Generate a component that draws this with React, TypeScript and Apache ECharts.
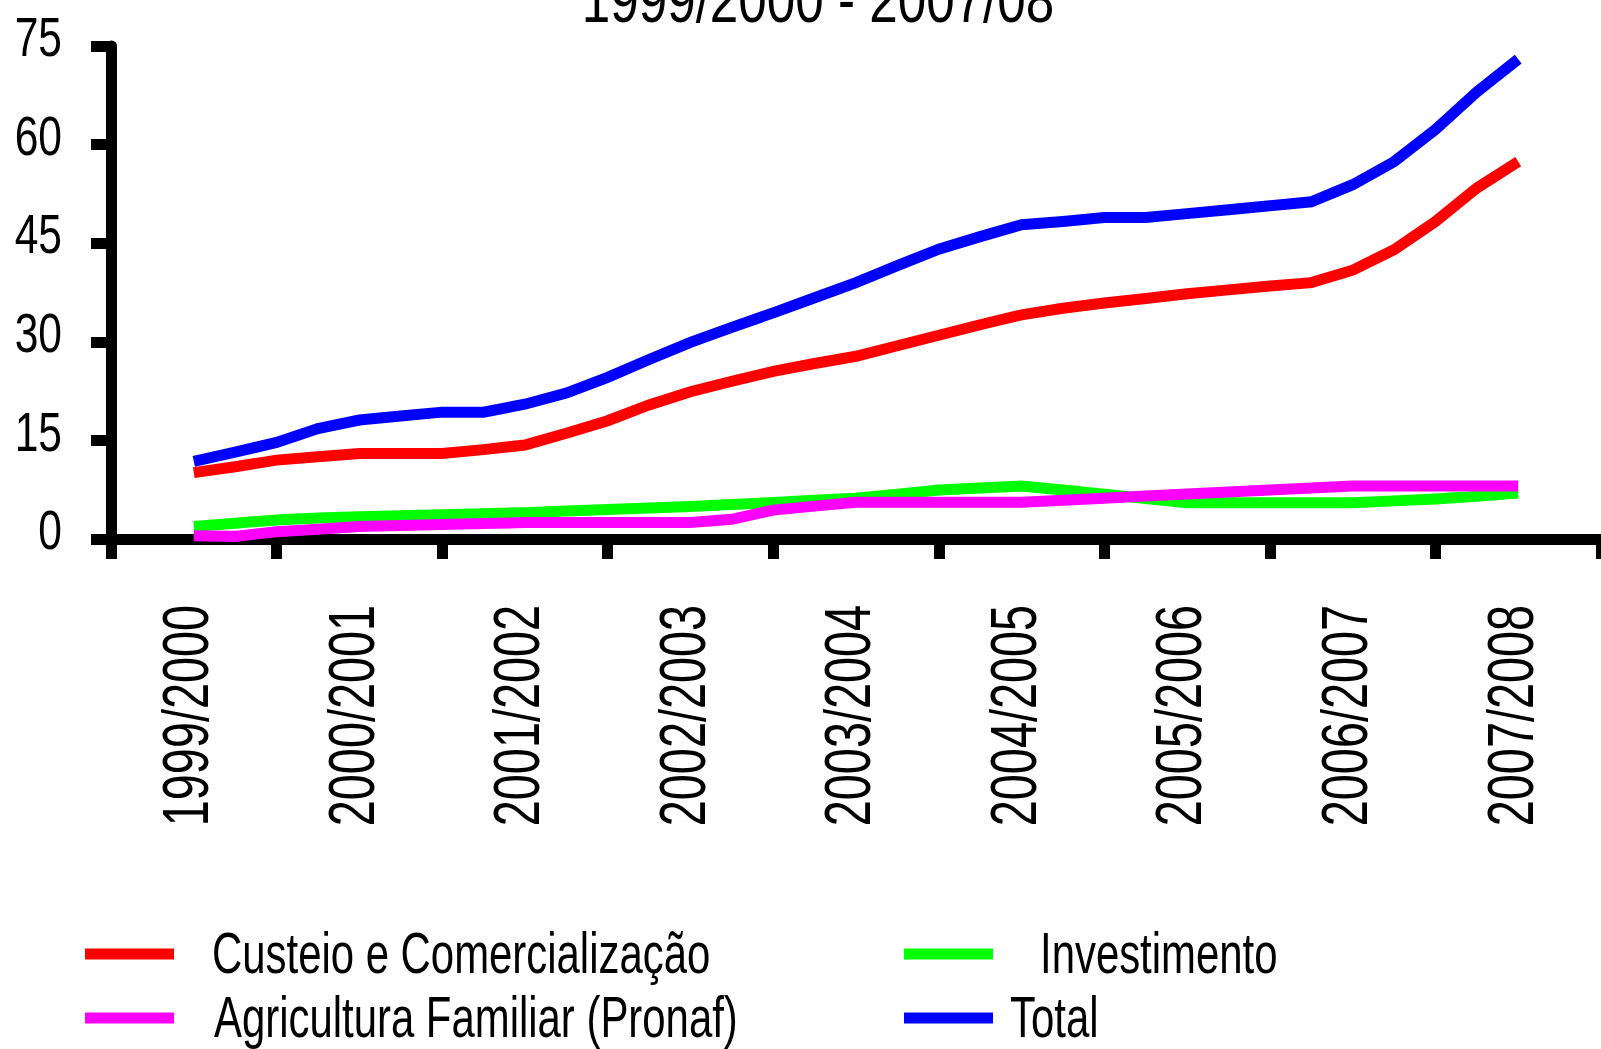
import React, { useEffect, useRef } from "react";
import * as echarts from "echarts";

const title = "1999/2000 - 2007/08";
const categories = [
  "1999/2000",
  "2000/2001",
  "2001/2002",
  "2002/2003",
  "2003/2004",
  "2004/2005",
  "2005/2006",
  "2006/2007",
  "2007/2008",
];
const yTickLabels = [0, 15, 30, 45, 60, 75];
const pointsPerSeason = 4;

const seriesNames = [
  "Custeio e Comercialização",
  "Investimento",
  "Agricultura Familiar (Pronaf)",
  "Total",
];
const seriesColors = ["#ff0000", "#00ff00", "#ff00ff", "#0000ff"];

const custeio = [
  10.1, 11.0, 12.0, 12.5, 13.0, 13.0, 13.0, 13.6, 14.3, 16.1, 18.0, 20.4, 22.4,
  24.0, 25.5, 26.7, 27.8, 29.4, 31.0, 32.6, 34.1, 35.1, 35.9, 36.6, 37.3, 37.9,
  38.5, 39.0, 40.9, 44.0, 48.3, 53.4, 57.4,
];
const investimento = [
  1.9, 2.4, 2.9, 3.2, 3.4, 3.55, 3.7, 3.85, 4.0, 4.25, 4.5, 4.7, 4.95, 5.25,
  5.55, 5.9, 6.2, 6.8, 7.45, 7.75, 8.06, 7.45, 6.8, 6.15, 5.5, 5.5, 5.5, 5.5,
  5.5, 5.8, 6.1, 6.5, 7.0,
];
const pronaf = [
  0.5, 0.4, 1.1, 1.5, 1.9, 2.05, 2.2, 2.35, 2.5, 2.5, 2.5, 2.5, 2.5, 3.0, 4.4,
  5.0, 5.6, 5.6, 5.6, 5.6, 5.6, 5.9, 6.2, 6.55, 6.85, 7.15, 7.45, 7.75, 8.06,
  8.06, 8.06, 8.06, 8.06,
];
const total = [
  11.8, 13.2, 14.7, 16.8, 18.1, 18.7, 19.3, 19.3, 20.5, 22.2, 24.6, 27.3, 29.9,
  32.2, 34.4, 36.7, 39.0, 41.6, 44.1, 46.0, 47.8, 48.3, 48.9, 48.9, 49.5, 50.1,
  50.7, 51.3, 53.9, 57.4, 62.3, 68.0, 73.0,
];

const FONT = "'Liberation Sans', Arial, sans-serif";

export default function App() {
  const ref = useRef<HTMLDivElement>(null);

  useEffect(() => {
    if (!ref.current) return;
    const chart = echarts.init(ref.current, null, { renderer: "svg" });

    const allValues = [custeio, investimento, pronaf, total];
    const toPoints = (vals: number[]) =>
      vals.map((v, i) => [0.5 + i / pointsPerSeason, v]);

    const legendPos = [
      { left: 85, rowY: 954, textX: 212 },
      { left: 904, rowY: 954, textX: 1040 },
      { left: 85, rowY: 1018, textX: 214 },
      { left: 904, rowY: 1018, textX: 1010 },
    ];
    const legendIconH = 11;

    const option: any = {
      animation: false,
      backgroundColor: "#ffffff",
      legend: seriesNames.map((name, k) => ({
        data: [name],
        left: legendPos[k].left,
        top: legendPos[k].rowY - legendIconH / 2,
        orient: "horizontal",
        padding: 0,
        icon: "rect",
        itemWidth: 89,
        itemHeight: legendIconH,
        selectedMode: false,
        formatter: () => "",
        textStyle: { fontSize: 10, padding: 0 },
      })),
      grid: { left: 111, right: 0, top: 46, bottom: 510, containLabel: false },
      xAxis: [
        {
          type: "category",
          data: categories,
          boundaryGap: true,
          axisLine: { show: true, lineStyle: { color: "#000", width: 11 } },
          axisTick: {
            show: true,
            interval: 0,
            length: 20,
            lineStyle: { color: "#000", width: 11 },
          },
          axisLabel: { show: false },
          splitLine: { show: false },
          z: 1,
        },
        {
          type: "value",
          min: 0,
          max: categories.length,
          show: false,
          splitLine: { show: false },
        },
      ],
      yAxis: {
        type: "value",
        min: yTickLabels[0],
        max: yTickLabels[yTickLabels.length - 1],
        interval: yTickLabels[1] - yTickLabels[0],
        axisLine: { show: true, lineStyle: { color: "#000", width: 11 } },
        axisTick: { show: true, length: 20, lineStyle: { color: "#000", width: 11 } },
        axisLabel: { show: false },
        splitLine: { show: false },
      },
      series: seriesNames.map((name, k) => ({
        name,
        type: "line",
        xAxisIndex: 1,
        yAxisIndex: 0,
        data: toPoints(allValues[k]),
        showSymbol: false,
        symbol: "none",
        smooth: false,
        color: seriesColors[k],
        lineStyle: { color: seriesColors[k], width: 11, cap: "butt", join: "miter" },
        z: 3 + k,
      })),
    };

    chart.setOption(option);

    // Narrow, tall text (Arial Narrow look) drawn at positions given by the chart's own scales
    const axisY = chart.convertToPixel({ yAxisIndex: 0 }, 0) as number;
    const axisX = chart.convertToPixel({ xAxisIndex: 1 }, 0) as number;

    const elements: any[] = [];

    elements.push({
      type: "text",
      x: 818,
      y: 0,
      scaleX: 0.8,
      style: {
        text: title,
        fontFamily: FONT,
        fontSize: 64,
        fill: "#000",
        align: "center",
        verticalAlign: "middle",
      },
    });

    yTickLabels.forEach((v) => {
      const py = chart.convertToPixel({ yAxisIndex: 0 }, v) as number;
      elements.push({
        type: "text",
        x: axisX - 49,
        y: py - 9,
        scaleX: 0.76,
        style: {
          text: String(v),
          fontFamily: FONT,
          fontSize: 56,
          fill: "#000",
          align: "right",
          verticalAlign: "middle",
        },
      });
    });

    categories.forEach((c) => {
      const px = chart.convertToPixel({ xAxisIndex: 0 }, c) as number;
      elements.push({
        type: "text",
        x: px - 8,
        y: axisY + 66,
        rotation: Math.PI / 2,
        scaleX: 0.72,
        style: {
          text: c,
          fontFamily: FONT,
          fontSize: 65,
          fill: "#000",
          align: "right",
          verticalAlign: "middle",
        },
      });
    });

    seriesNames.forEach((name, k) => {
      elements.push({
        type: "text",
        x: legendPos[k].textX,
        y: legendPos[k].rowY,
        scaleX: 0.735,
        style: {
          text: name,
          fontFamily: FONT,
          fontSize: 57,
          fill: "#000",
          align: "left",
          verticalAlign: "middle",
        },
      });
    });

    chart.setOption({ graphic: { elements } });

    return () => chart.dispose();
  }, []);

  return (
    <div
      ref={ref}
      style={{ position: "fixed", left: 0, top: 0, width: "1601px", height: "1049px", background: "#fff" }}
    />
  );
}
